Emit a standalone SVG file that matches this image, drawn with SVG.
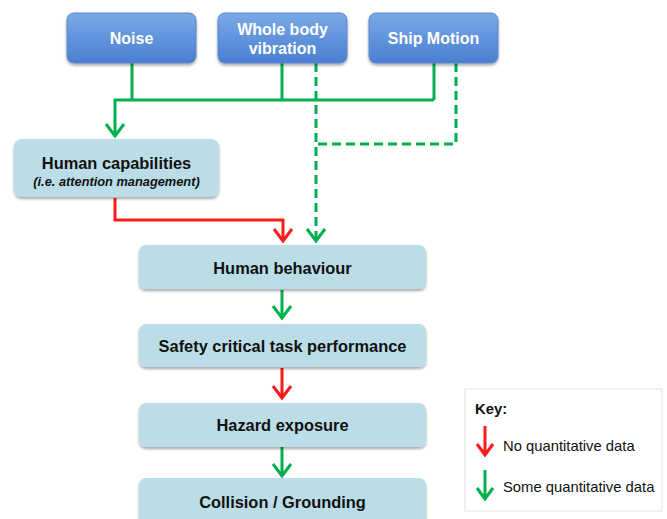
<svg xmlns="http://www.w3.org/2000/svg" width="667" height="519" viewBox="0 0 667 519">
<defs>
<linearGradient id="blueG" x1="0" y1="0" x2="0" y2="1">
<stop offset="0" stop-color="#7aa9e6"/>
<stop offset="1" stop-color="#4a7fd2"/>
</linearGradient>
<filter id="sh" x="-10%" y="-10%" width="120%" height="130%">
<feGaussianBlur in="SourceAlpha" stdDeviation="1.5"/>
<feOffset dx="0" dy="2" result="o"/>
<feComponentTransfer><feFuncA type="linear" slope="0.35"/></feComponentTransfer>
<feMerge><feMergeNode/><feMergeNode in="SourceGraphic"/></feMerge>
</filter>
</defs>
<style>
.top{fill:url(#blueG);stroke:#5b86c8;stroke-width:1;filter:url(#sh)}
.lb{fill:#bbdde7;stroke:none;filter:url(#sh)}
.tw{font-family:"Liberation Sans",Arial,sans-serif;font-weight:bold;font-size:16px;fill:#ffffff;text-anchor:middle}
.tb{font-family:"Liberation Sans",Arial,sans-serif;font-weight:bold;font-size:16.4px;fill:#111111;text-anchor:middle}
.ti{font-family:"Liberation Sans",Arial,sans-serif;font-weight:bold;font-style:italic;font-size:12.8px;fill:#111111;text-anchor:middle}
.tk{font-family:"Liberation Sans",Arial,sans-serif;font-size:14.8px;fill:#111111}
.g{stroke:#00b04f;stroke-width:3;fill:none}
.r{stroke:#ff1a1a;stroke-width:3;fill:none}
.d{stroke-dasharray:9,5}
</style>
<rect width="667" height="519" fill="#ffffff"/>
<g id="connectors">
<path class="g" d="M132 63V100M282 63V100M434 63V100M434 100H115V135"/>
<path class="g" d="M106 124L115 136L124 124"/>
<path class="g d" d="M316 63V240"/>
<path class="g d" d="M456 63V144H316"/>
<path class="g" d="M307 229L316 241L325 229"/>
<path class="r" d="M115 198V220H283V241"/>
<path class="r" d="M274 229L283 241L292 229"/>
<path class="g" d="M282 290V318M273 306L282 318L291 306"/>
<path class="r" d="M282 368V398M273 386L282 398L291 386"/>
<path class="g" d="M282 447V476M273 464L282 476L291 464"/>
</g>
<g id="noise"><rect class="top" x="67" y="13" width="129" height="50" rx="7"/><text class="tw" x="131.5" y="44">Noise</text></g>
<g id="wbv"><rect class="top" x="218" y="13" width="129" height="50" rx="7"/><text class="tw" x="282.5" y="35">Whole body</text><text class="tw" x="282.5" y="54">vibration</text></g>
<g id="ship"><rect class="top" x="369" y="13" width="129" height="50" rx="7"/><text class="tw" x="433.5" y="44">Ship Motion</text></g>
<g id="capabilities"><rect class="lb" x="14" y="139" width="205" height="58" rx="8"/><text class="tb" x="116.5" y="169">Human capabilities</text><text class="ti" x="116.5" y="186">(i.e. attention management)</text></g>
<g id="behaviour"><rect class="lb" x="139" y="245" width="287" height="44" rx="7"/><text class="tb" x="282.5" y="274">Human behaviour</text></g>
<g id="safety"><rect class="lb" x="139" y="324" width="287" height="43" rx="7"/><text class="tb" x="282.5" y="352">Safety critical task performance</text></g>
<g id="hazard"><rect class="lb" x="139" y="403" width="287" height="44" rx="7"/><text class="tb" x="282.5" y="431">Hazard exposure</text></g>
<g id="collision"><rect class="lb" x="139" y="478" width="287" height="50" rx="7"/><text class="tb" x="282.5" y="508">Collision / Grounding</text></g>
<g id="key">
<rect x="465" y="389" width="197" height="122" fill="#ffffff" stroke="#dde3ea" stroke-width="1"/>
<text class="tk" x="475" y="414" font-weight="bold">Key:</text>
<path class="r" d="M485 426V455M477 444L485 455L493 444"/>
<text class="tk" x="503" y="451">No quantitative data</text>
<path class="g" d="M485 470V499M477 488L485 499L493 488"/>
<text class="tk" x="503" y="492">Some quantitative data</text>
</g>
</svg>
